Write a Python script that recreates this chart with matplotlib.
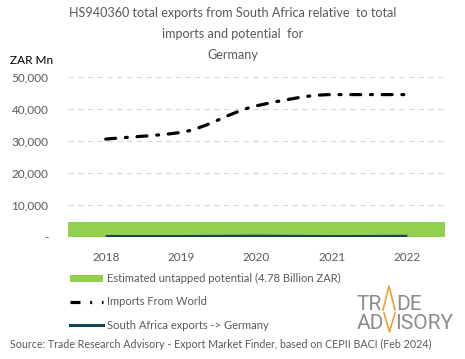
import numpy as np
import matplotlib
matplotlib.use("Agg")
import matplotlib.pyplot as plt
from matplotlib.path import Path
from matplotlib.patches import PathPatch, Patch
from matplotlib.lines import Line2D

plt.rcParams['font.family'] = ['Lato', 'DejaVu Sans']
plt.rcParams['lines.scale_dashes'] = False

years = ["2018", "2019", "2020", "2021", "2022"]
imports_world = [30600, 32700, 41000, 44500, 44500]
sa_exports = [150, 140, 250, 130, 220]
untapped_potential = 4780
yticks = [0, 10000, 20000, 30000, 40000, 50000]
ytick_labels = ["-", "10,000", "20,000", "30,000", "40,000", "50,000"]

GRAY = "#595959"
GREEN = "#92d050"
TEAL = "#174552"
DASHES = (0, (7.2, 7.0, 1.4, 7.0))

W, H = 465, 359


def fx(px):
    return px / W


def fy(py):
    return 1 - py / H


def smooth_path(xs, ys):
    xs = np.asarray(xs, float)
    ys = np.asarray(ys, float)
    n = len(xs)
    d = np.diff(ys) / np.diff(xs)
    m = np.zeros(n)
    m[0], m[-1] = d[0], d[-1]
    for i in range(1, n - 1):
        if d[i - 1] * d[i] <= 0:
            m[i] = 0
        else:
            m[i] = 2 / (1 / d[i - 1] + 1 / d[i])
    verts = [(xs[0], ys[0])]
    codes = [Path.MOVETO]
    for i in range(n - 1):
        h = xs[i + 1] - xs[i]
        verts += [(xs[i] + h / 3, ys[i] + m[i] * h / 3),
                  (xs[i + 1] - h / 3, ys[i + 1] - m[i + 1] * h / 3),
                  (xs[i + 1], ys[i + 1])]
        codes += [Path.CURVE4] * 3
    return Path(verts, codes)


fig = plt.figure(figsize=(4.65, 3.59), dpi=100)
ax = fig.add_axes([fx(68), fy(237), (445 - 68) / W, 160 / H])

x = np.arange(len(years))
ax.bar(x, [untapped_potential] * len(years), width=1.0, color=GREEN, zorder=2)

ax.add_patch(PathPatch(smooth_path(x, imports_world), fill=False, edgecolor="black",
                       linewidth=2.3, linestyle=DASHES, capstyle="round", zorder=3))
ax.add_patch(PathPatch(smooth_path(x, sa_exports), fill=False, edgecolor=TEAL,
                       linewidth=2.2, zorder=3))

ax.set_xlim(-0.5, len(years) - 0.5)
ax.set_ylim(0, 50000)
ax.set_yticks(yticks)
ax.set_yticklabels(ytick_labels)
ax.set_xticks(x)
ax.set_xticklabels(years)
ax.tick_params(axis="both", length=0, colors=GRAY, labelsize=8.5)
ax.tick_params(axis="y", pad=14)
ax.tick_params(axis="x", pad=11)
for s in ax.spines.values():
    s.set_visible(False)
ax.grid(axis="y", color="#d9d9d9", linestyle=(0, (4, 3)), linewidth=0.8, zorder=0)
ax.set_axisbelow(True)

# Title
fig.text(fx(233), fy(13), "HS940360 total exports from South Africa relative  to total",
         ha="center", va="center", fontsize=9.1, color=GRAY)
fig.text(fx(233), fy(34), "imports and potential  for",
         ha="center", va="center", fontsize=9.1, color=GRAY)
fig.text(fx(233), fy(55), "Germany",
         ha="center", va="center", fontsize=9.1, color=GRAY)
fig.text(fx(10), fy(60), "ZAR Mn", ha="left", va="center", fontsize=8.5, color="black")

# Legend
handles = [Patch(facecolor=GREEN, edgecolor="none"),
           Line2D([], [], color="black", linewidth=2.3, linestyle=DASHES),
           Line2D([], [], color=TEAL, linewidth=2.2)]
labels = ["Estimated untapped potential (4.78 Billion ZAR)",
          "Imports From World",
          "South Africa exports -> Germany"]
leg = fig.legend(handles, labels, loc="upper left", bbox_to_anchor=(fx(70), fy(273)),
                 frameon=False, fontsize=8, handlelength=2.97, handleheight=0.6,
                 handletextpad=0.36, labelspacing=1.12, borderaxespad=0, borderpad=0)
for t in leg.get_texts():
    t.set_color(GRAY)

# Source
fig.text(fx(10), fy(344),
         "Source: Trade Research Advisory - Export Market Finder, based on CEPII BACI (Feb 2024)",
         ha="left", va="center", fontsize=7.7, color=GRAY)

# Logo
LOGO_GRAY = "#8c8c8c"
ORANGE = "#f0a030"
LOGO_FONT = ["Roboto", "DejaVu Sans"]
kw = dict(va="baseline", fontsize=15, color=LOGO_GRAY, family=LOGO_FONT, fontweight="normal")
fig.text(fx(382), fy(310), "TR", ha="right", **kw)
fig.text(fx(396.5), fy(310), "DE", ha="left", **kw)
fig.text(fx(384), fy(329), "AD", ha="right", **kw)
fig.text(fx(395), fy(329), "ISORY", ha="left", **kw)
fig.add_artist(Line2D([fx(383), fx(389), fx(395)], [fy(310), fy(286), fy(310)],
                      color=ORANGE, linewidth=1.2, transform=fig.transFigure))
fig.add_artist(Line2D([fx(384), fx(389.5), fx(395)], [fy(313), fy(332), fy(313)],
                      color=ORANGE, linewidth=1.2, transform=fig.transFigure))

fig.savefig("out.png", dpi=100)
